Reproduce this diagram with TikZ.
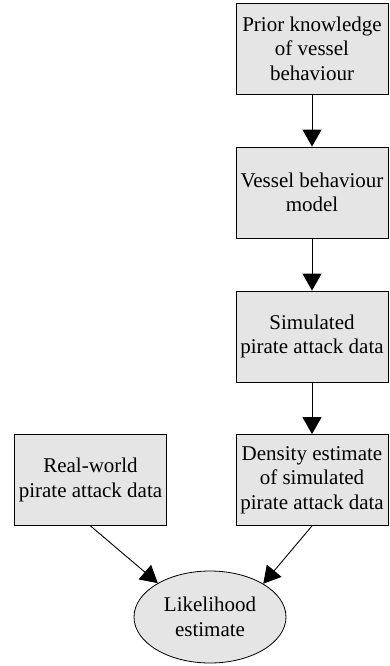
\documentclass[tikz,border=0pt]{standalone}
\usepackage{fontspec}
\setmainfont{Liberation Serif}
\usetikzlibrary{arrows.meta,shapes.geometric}
\begin{document}
\begin{tikzpicture}[x=1pt,y=-1pt,
  stepbox/.style={draw=black, fill=black!10, line width=0.8pt,
    minimum width=152pt, minimum height=91pt, inner sep=0pt,
    align=center, font=\fontsize{21}{24.5}\selectfont},
  resultnode/.style={ellipse, draw=black, fill=black!10, line width=0.8pt,
    minimum width=152pt, minimum height=92pt, inner sep=0pt,
    align=center, font=\fontsize{21}{24.5}\selectfont},
  flow/.style={line width=0.9pt, -{Triangle[width=19pt,length=17pt]}}]
\useasboundingbox (0,0) rectangle (390,666);

\node[stepbox] (prior) at (312,48.5) {Prior knowledge\\of vessel\\behaviour};
\node[stepbox] (model) at (312,192.5) {Vessel behaviour\\model};
\node[stepbox] (sim) at (312,336.5) {Simulated\\pirate attack data};
\node[stepbox] (dens) at (312,480) {Density estimate\\of simulated\\pirate attack data};
\node[stepbox] (real) at (90.5,480) {Real-world\\pirate attack data};
\node[resultnode] (like) at (210,617) {Likelihood\\estimate};

\draw[flow] (prior) -- (model);
\draw[flow] (model) -- (sim);
\draw[flow] (sim) -- (dens);
\draw[flow] (real.south) -- (like.147);
\draw[flow] (dens.south) -- (like.32);
\end{tikzpicture}
\end{document}
